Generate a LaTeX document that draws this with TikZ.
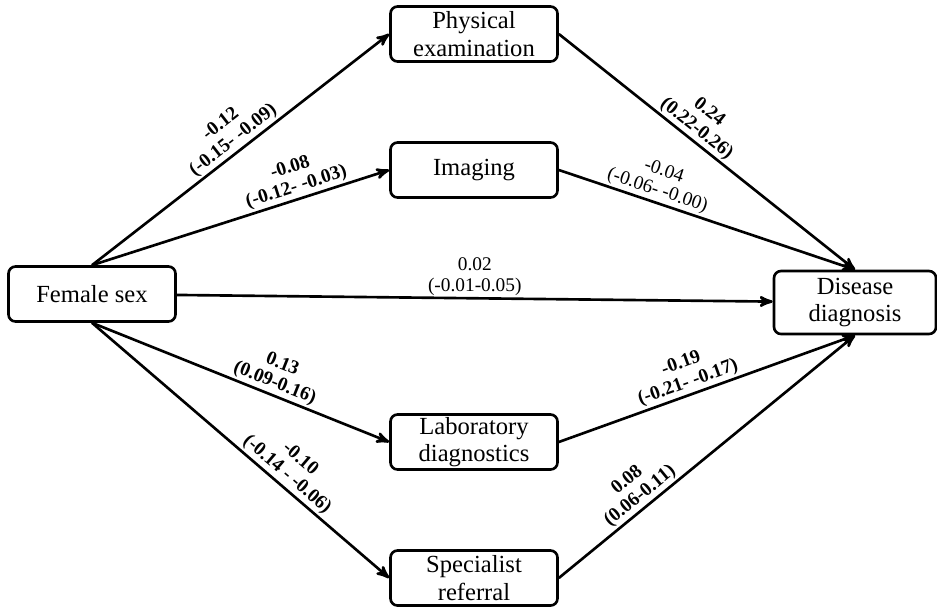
\documentclass[tikz,border=0pt]{standalone}
\usepackage{fontspec}
\setmainfont{Liberation Serif}
\usetikzlibrary{arrows}

\begin{document}
\begin{tikzpicture}[->,>=stealth',node distance=2.72cm,
                    line width=1.5pt]
  \tikzstyle{box}=[rectangle,rounded corners=4pt,draw=black,text=black,align=center,
                   minimum width=3.34cm,minimum height=1.1cm,inner sep=1pt,
                   font=\fontsize{14}{15.5}\selectfont]
  \tikzstyle{coef}=[sloped,above,align=center,inner sep=1pt,
                    font=\fontsize{11}{11.5}\selectfont\bfseries]
  \tikzstyle{coefplain}=[coef,font=\fontsize{11}{11.5}\selectfont]
  \tikzstyle{coefflat}=[above,align=center,inner sep=1pt,
                        font=\fontsize{11}{11.5}\selectfont]

  \useasboundingbox (-1.84,5.88) rectangle (16.9,-6.26);

  \node[box]         (F) {Female sex};
  \node[box]         (I) [right of=F, xshift=4.92cm, yshift=2.48cm] {Imaging};
  \node[box]         (P) [above of=I] {Physical\\examination};
  \node[box]         (L) [below of=I, yshift=-2.72cm] {Laboratory\\diagnostics};
  \node[box]         (S) [below of=L] {Specialist\\referral};
  \node[box]         (D) [right of=F, xshift=12.54cm, yshift=-0.17cm,
                          minimum width=3.24cm, minimum height=1.26cm] {Disease\\diagnosis};

  \path (F.north) edge node [coef] {-0.12\\(-0.15- -0.09)} (P.west)
        (F.north) edge node [coef, pos=0.7] {-0.08\\(-0.12- -0.03)} (I.west)
        (F)       edge node [coefflat] {0.02\\(-0.01-0.05)} (D)
        (F.south) edge node [coef, pos=0.6] {0.13\\(0.09-0.16)} (L.west)
        (F.south) edge node [coef, pos=0.63] {-0.10\\(-0.14 - -0.06)} (S.west)
        (P.east)  edge node [coef, pos=0.44] {0.24\\(0.22-0.26)} (D.north)
        (I.east)  edge node [coefplain, pos=0.32] {-0.04\\(-0.06- -0.00)} (D.north)
        (L.east)  edge node [coef, pos=0.45] {-0.19\\(-0.21- -0.17)} (D.south)
        (S.east)  edge node [coef, pos=0.3] {0.08\\(0.06-0.11)} (D.south);
\end{tikzpicture}
\end{document}
